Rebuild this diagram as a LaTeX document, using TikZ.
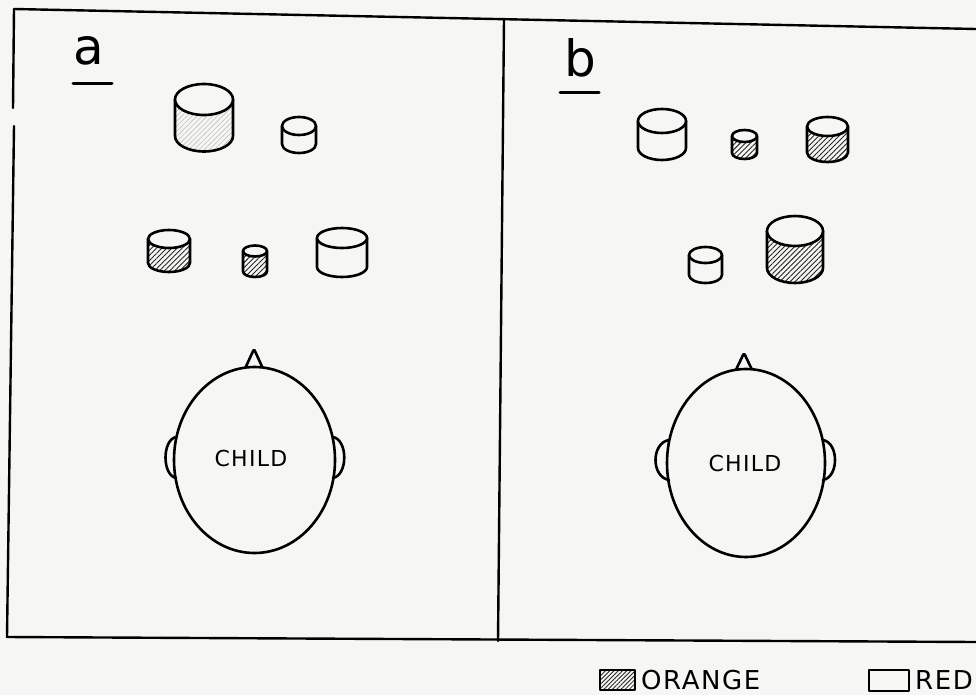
\documentclass[tikz,border=0pt]{standalone}
\usepackage{fontspec}
\setmainfont{DejaVu Sans}
\newfontfamily\spacedfont[LetterSpace=6]{DejaVu Sans}
\usetikzlibrary{patterns.meta}
\definecolor{paper}{RGB}{246,246,244}

% drum: name, centre x, top y, bottom y, x radius, y radius, side fill style
\newcommand\drum[7]{%
  \coordinate (#1) at (#2,#3);
  \path[#7] ({#2-#5},#3) -- ({#2-#5},#4)
     arc[start angle=180,end angle=0,x radius=#5,y radius=#6]
     -- ({#2+#5},#3)
     arc[start angle=0,end angle=180,x radius=#5,y radius=#6] -- cycle;
  \draw[ink] ({#2-#5},#3) -- ({#2-#5},#4)
     arc[start angle=180,end angle=0,x radius=#5,y radius=#6]
     -- ({#2+#5},#3);
  \draw[ink,fill=paper] (#2,#3) ellipse[x radius=#5,y radius=#6];
}

\begin{document}
\begin{tikzpicture}[x=1pt,y=-1pt,line join=round,line cap=round,
  ink/.style={line width=2.6pt,draw=black},
  frameline/.style={line width=2.4pt,draw=black},
  orangeside/.style={pattern={Lines[angle=45,distance=3.6pt,line width=0.9pt]},pattern color=black!85},
  paleside/.style={pattern={Lines[angle=45,distance=3.6pt,line width=0.6pt]},pattern color=black!25},
  redside/.style={fill=paper},
  panellabel/.style={font=\fontsize{50}{50}\selectfont,inner sep=0pt},
  childlabel/.style={font=\spacedfont\fontsize{22}{22}\selectfont,inner sep=0pt},
  legendlabel/.style={font=\spacedfont\fontsize{26}{26}\selectfont,inner sep=0pt,anchor=west}]

\useasboundingbox (0,0) rectangle (976,695);
\fill[paper] (0,0) rectangle (976,695);

% frame and divider
\draw[frameline] (14,9) -- (976,29);
\draw[frameline] (14,9) -- (13,108);
\draw[frameline] (14,126) -- (7,637) -- (976,642);
\draw[frameline] (504,19) -- (498,641);

% panel labels
\node[panellabel,anchor=base] (la) at (89,65) {a};
\draw[line width=3pt] (73,84) -- (112,84);
\node[panellabel,anchor=base] (lb) at (580,77) {b};
\draw[line width=3pt] (560,93) -- (599,93);

% panel a drums
\drum{a1}{204}{99.5}{136}{29}{15.5}{paleside}
\drum{a2}{299}{126}{144}{17}{9}{redside}
\drum{a3}{169}{239}{263}{21}{9}{orangeside}
\drum{a4}{255}{251}{271.5}{12}{5.5}{orangeside}
\drum{a5}{342}{238}{267}{25}{10}{redside}

% panel b drums
\drum{b1}{662}{121}{148}{24}{12}{redside}
\drum{b2}{744.5}{136}{153}{12.5}{6}{orangeside}
\drum{b3}{827.5}{126.5}{152.5}{20.5}{9.5}{orangeside}
\drum{b4}{705.5}{255}{275}{16.5}{8}{redside}
\drum{b5}{795}{231}{268}{28}{15}{orangeside}

% child, panel a
\draw[ink,fill=paper,rounded corners=2pt] (243,373) -- (254,349) -- (265,373);
\draw[ink,fill=paper] (254.5,460) ellipse[x radius=80.5,y radius=93];
\draw[ink] (176,437) .. controls (162,440) and (162,475) .. (176,478);
\draw[ink] (333,437) .. controls (348,440) and (348,475) .. (333,478);
\node[childlabel] (ca) at (251,458) {CHILD};

% child, panel b
\draw[ink,fill=paper,rounded corners=2pt] (733,376) -- (744,353) -- (755,376);
\draw[ink,fill=paper] (746,463) ellipse[x radius=79,y radius=94];
\draw[ink] (669,440) .. controls (651,443) and (651,477) .. (669,480);
\draw[ink] (823,440) .. controls (839,443) and (839,477) .. (823,480);
\node[childlabel] (cb) at (745,463) {CHILD};

% legend
\draw[line width=2pt,pattern={Lines[angle=45,distance=3pt,line width=0.8pt]},pattern color=black!85] (600,670) rectangle (635,690);
\node[legendlabel] (lo) at (641,680) {ORANGE};
\draw[line width=2pt,fill=paper] (869,670) rectangle (909,691);
\node[legendlabel] (lr) at (915,680) {RED};
\end{tikzpicture}
\end{document}
